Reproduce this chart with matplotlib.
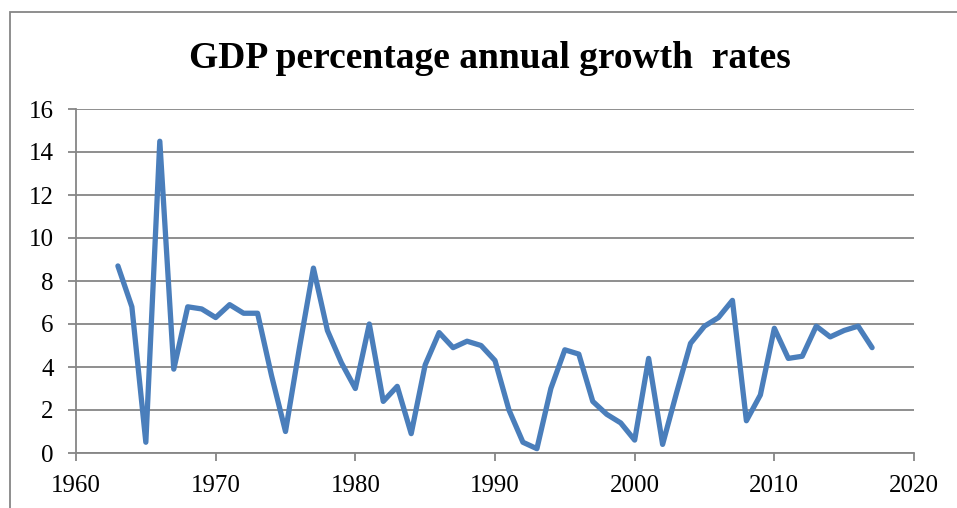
import matplotlib
matplotlib.use("Agg")
import matplotlib.pyplot as plt
from matplotlib.patches import Rectangle

years = list(range(1963, 2018))
growth = [8.7, 6.8, 0.5, 14.5, 3.9, 6.8, 6.7, 6.3, 6.9, 6.5,
          6.5, 3.6, 1.0, 4.9, 8.6, 5.7, 4.2, 3.0, 6.0, 2.4,
          3.1, 0.9, 4.1, 5.6, 4.9, 5.2, 5.0, 4.3, 2.0, 0.5,
          0.2, 3.0, 4.8, 4.6, 2.4, 1.8, 1.4, 0.6, 4.4, 0.4,
          2.8, 5.1, 5.9, 6.3, 7.1, 1.5, 2.7, 5.8, 4.4, 4.5,
          5.9, 5.4, 5.7, 5.9, 4.9]

plt.rcParams['font.family'] = 'Liberation Serif'

fig = plt.figure(figsize=(9.57, 5.08), dpi=100)
ax = fig.add_axes([76/957, 1-453/508, (914-76)/957, (453-109)/508])

# chart frame (right and bottom edges fall outside the image)
fig.patches.append(Rectangle((9.5/957, -0.05), 1.0, 1-12.5/508+0.05,
                             transform=fig.transFigure, fill=False,
                             edgecolor='#868686', linewidth=1.3))

ax.plot(years, growth, color='#4A7EBB', linewidth=3.8, solid_joinstyle='round',
        solid_capstyle='round')

ax.set_xlim(1960, 2020)
ax.set_ylim(0, 16)
ax.set_xticks(range(1960, 2021, 10))
ax.set_yticks(range(0, 17, 2))
ax.yaxis.grid(True, color='#868686', linewidth=1.3)
ax.set_axisbelow(True)
for s in ['top', 'right']:
    ax.spines[s].set_visible(False)
for s in ['left', 'bottom']:
    ax.spines[s].set_color('#868686')
    ax.spines[s].set_linewidth(1.3)
ax.tick_params(colors='#868686', width=1.3, length=6, labelsize=18, labelcolor='black')
ax.tick_params(axis='y', pad=10)
ax.tick_params(axis='x', pad=10)

fig.text(490/957, 1-58/508, 'GDP percentage annual growth  rates', ha='center', va='center',
         fontsize=27, fontweight='bold')

fig.savefig('out.png', dpi=100)
